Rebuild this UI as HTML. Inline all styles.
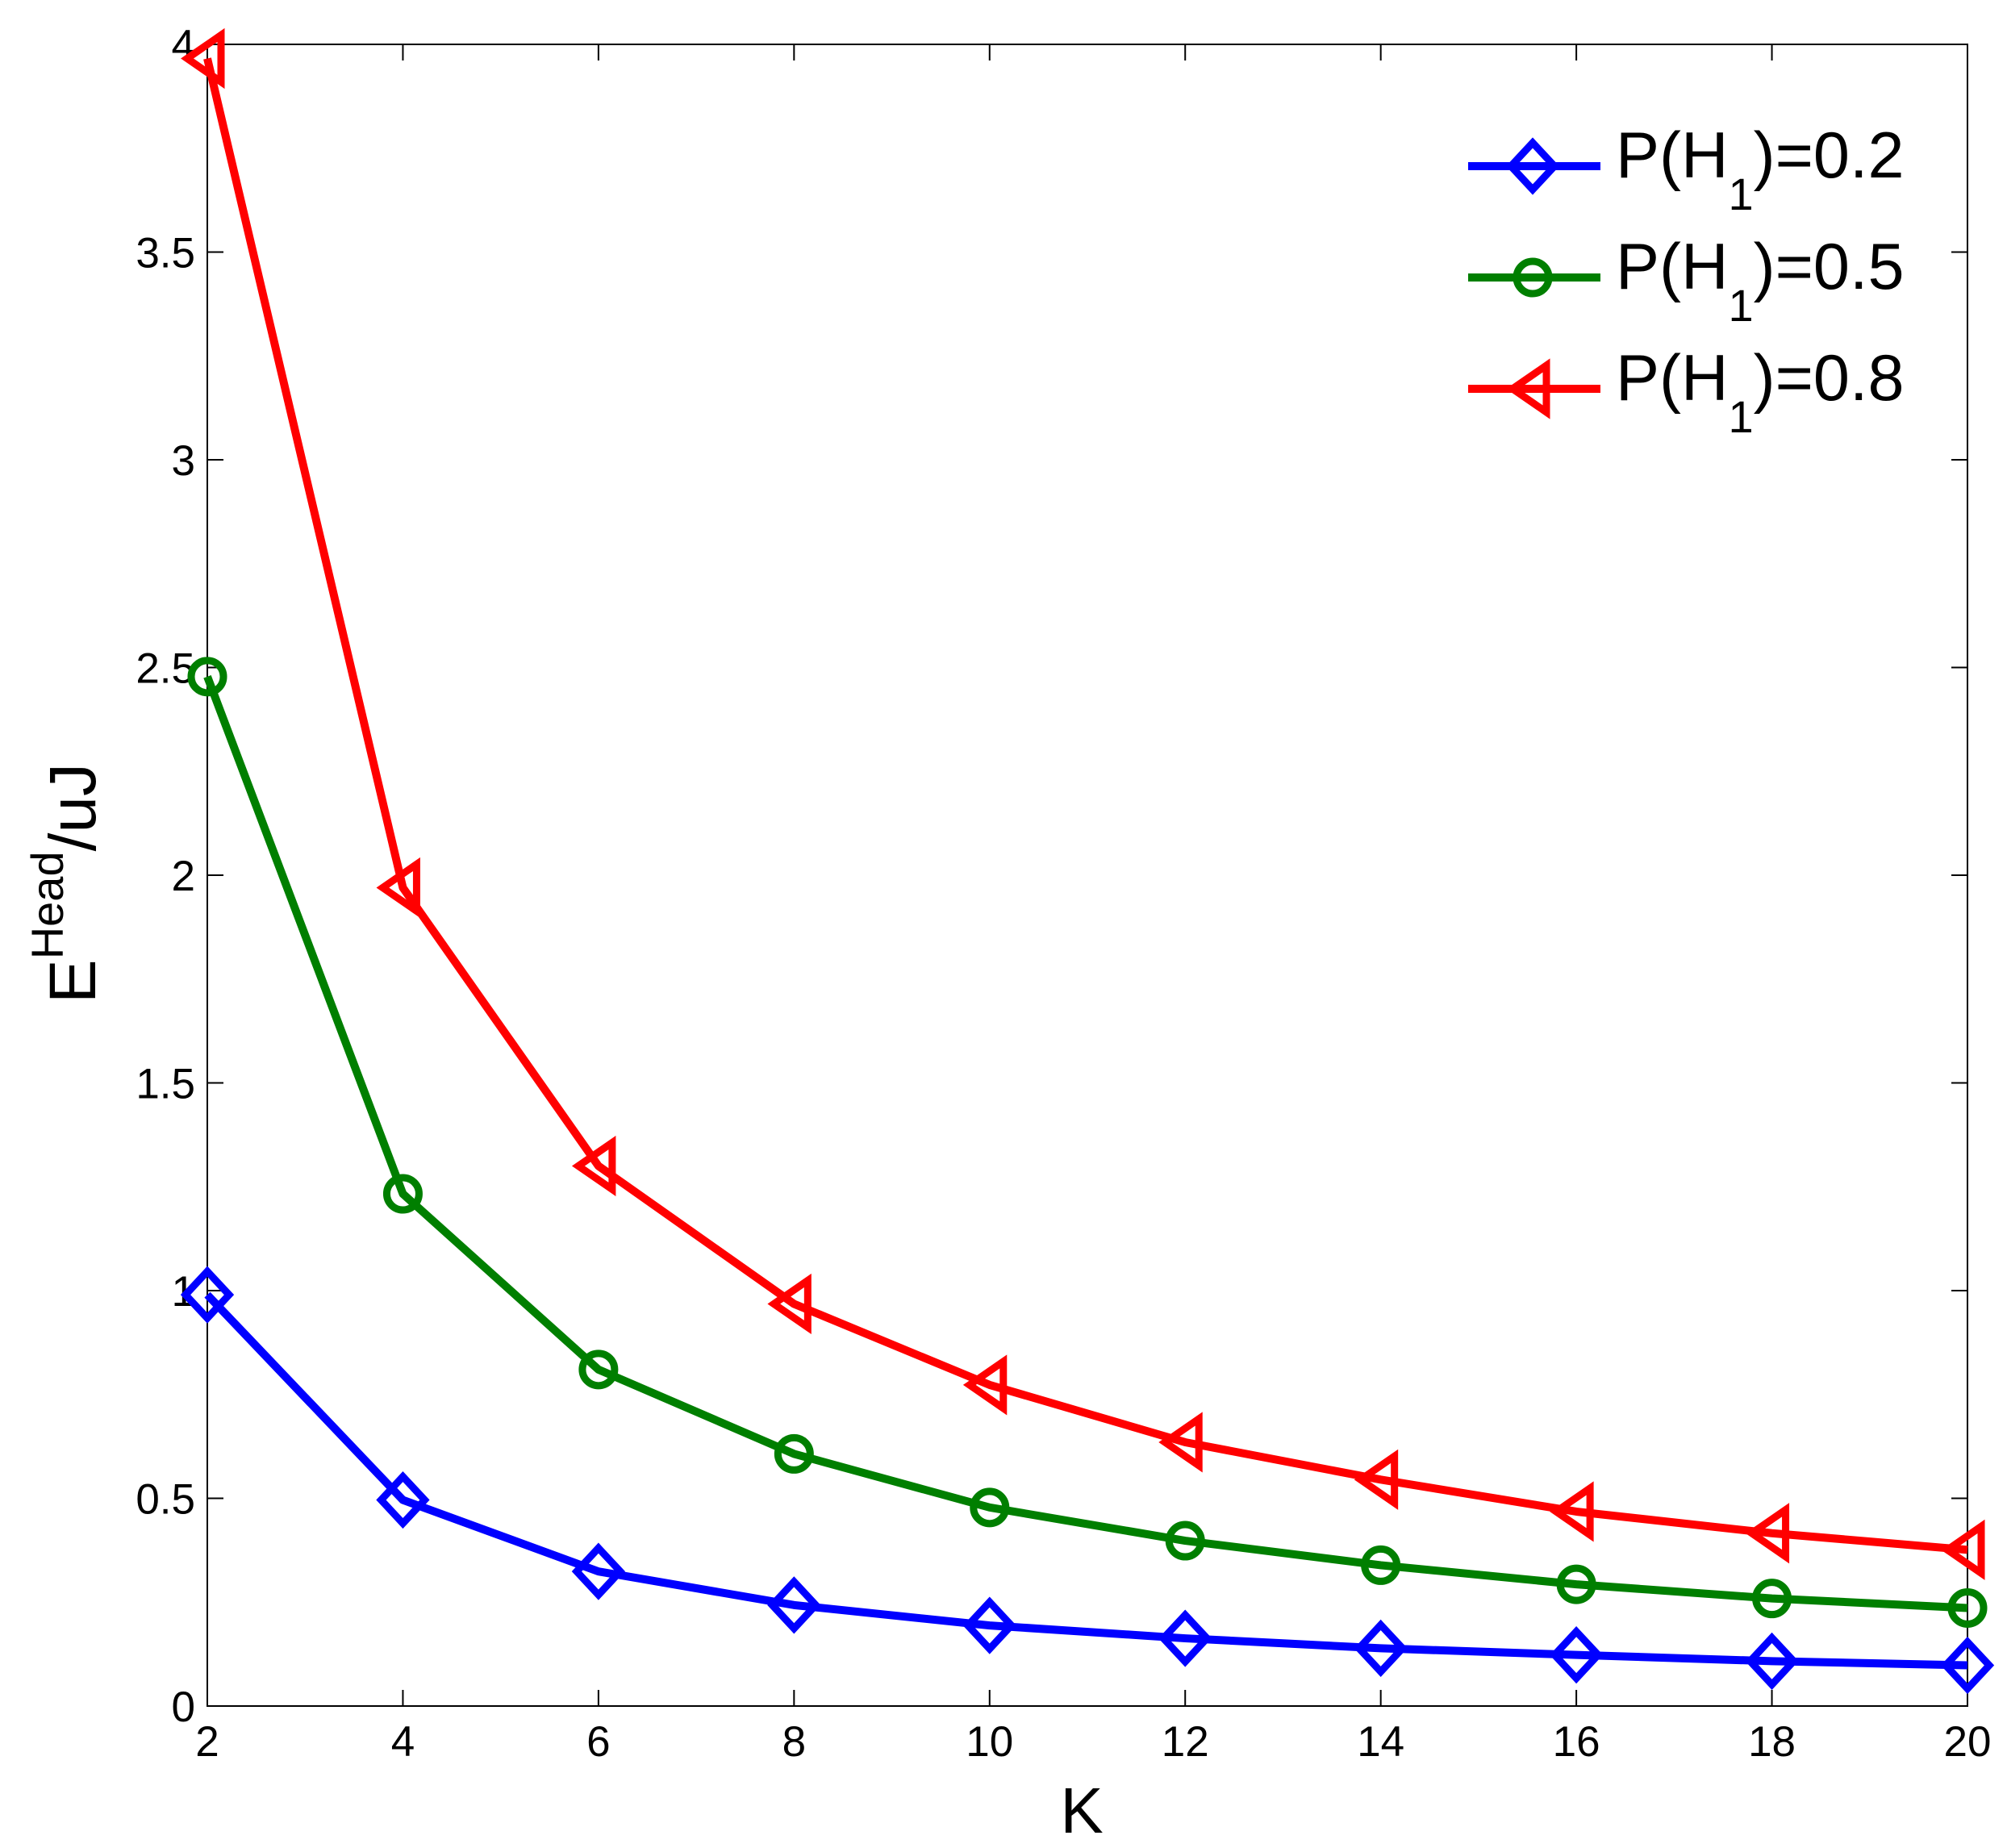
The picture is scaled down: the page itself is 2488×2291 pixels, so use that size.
<!DOCTYPE html>
<html><head><meta charset="utf-8"><style>
html,body{margin:0;padding:0;background:#fff;}
svg{display:block;font-family:"Liberation Sans",Arial,sans-serif;}
</style></head><body>
<svg id="chart" width="2488" height="2291" viewBox="0 0 2488 2291">
<rect x="0" y="0" width="2488" height="2291" fill="#fff"/>
<g id="axes"></g>
<g id="series"></g>
<g id="legend"></g>
<text x="1341" y="2272" font-size="80" text-anchor="middle">K</text>
<text transform="translate(118,1095) rotate(-90)" font-size="82" text-anchor="middle">E<tspan font-size="56" dy="-40">Head</tspan><tspan dy="40">/uJ</tspan></text>
</svg>
<script>
const kValues = [2,4,6,8,10,12,14,16,18,20];
const seriesP02 = [0.99,0.496,0.324,0.243,0.194,0.163,0.139,0.123,0.108,0.098];
const seriesP05 = [2.478,1.233,0.81,0.607,0.478,0.398,0.339,0.293,0.259,0.236];
const seriesP08 = [3.966,1.97,1.30,0.968,0.773,0.635,0.545,0.468,0.416,0.376];
const xTicks = [2,4,6,8,10,12,14,16,18,20];
const yTicks = [0,0.5,1,1.5,2,2.5,3,3.5,4];
const yTickLabels = ["0","0.5","1","1.5","2","2.5","3","3.5","4"];
const seriesNames = ["P(H1)=0.2","P(H1)=0.5","P(H1)=0.8"];

const L=257,R=2439,T=55,B=2115;
const xS=v=>L+(v-2)/(20-2)*(R-L);
const yS=v=>B-(v/4)*(B-T);
const NS='http://www.w3.org/2000/svg';
function mk(tag,attrs,parent){const e=document.createElementNS(NS,tag);for(const k in attrs)e.setAttribute(k,attrs[k]);parent.appendChild(e);return e;}
const axes=document.getElementById('axes');
const sg=document.getElementById('series');
const lg=document.getElementById('legend');

let frame=mk('rect',{x:L,y:T,width:R-L,height:B-T,fill:'none',stroke:'#000','stroke-width':2},axes);


xTicks.forEach(v=>{
  const x=xS(v);
  let t=mk('path',{d:`M${x},${B}v-20M${x},${T}v20`,stroke:'#000','stroke-width':2},axes);
  
  
  let tx=mk('text',{x:x,y:2177,'font-size':53,'text-anchor':'middle'},axes);
  tx.textContent=String(v);
  
  
});
yTicks.forEach((v,i)=>{
  const y=yS(v);
  let t=mk('path',{d:`M${L},${y}h20M${R},${y}h-20`,stroke:'#000','stroke-width':2},axes);
  
  
  let tx=mk('text',{x:242,y:y+19,'font-size':53,'text-anchor':'end'},axes);
  tx.textContent=yTickLabels[i];
  
  
});

function marker(type,x,y,color,parent){
  let m;
  if(type==='diamond') m=mk('path',{d:`M${x},${y-29}L${x+27},${y}L${x},${y+29}L${x-27},${y}Z`,fill:'none',stroke:color,'stroke-width':9},parent);
  else if(type==='circle') m=mk('circle',{cx:x,cy:y,r:20,fill:'none',stroke:color,'stroke-width':9},parent);
  else m=mk('path',{d:`M${x-25},${y}L${x+17},${y-29}L${x+17},${y+29}Z`,fill:'none',stroke:color,'stroke-width':9},parent);
  return m;
}
const defs=[[seriesP02,'#0000ff','diamond','p02'],[seriesP05,'#007f00','circle','p05'],[seriesP08,'#ff0000','triangle','p08']];
defs.forEach(([vals,col,mt,id])=>{
  const pts=kValues.map((k,i)=>xS(k)+','+yS(vals[i])).join(' ');
  let pl=mk('polyline',{points:pts,fill:'none',stroke:col,'stroke-width':10,'stroke-linejoin':'round'},sg);
  
  
  kValues.forEach((k,i)=>{
    let m=marker(mt,xS(k),yS(vals[i]),col,sg);
    
    
  });
});
const legY=[206,344,482];
defs.forEach(([vals,col,mt,id],i)=>{
  const y=legY[i];
  let ln=mk('line',{x1:1820,x2:1984,y1:y,y2:y,stroke:col,'stroke-width':10},lg);
  
  
  let m=marker(mt,1900,y,col,lg);
  
  
  const val=seriesNames[i].split('=')[1];
  let tx=mk('text',{x:2003,y:y+14,'font-size':81},lg);
  tx.innerHTML=`P(H<tspan font-size="56" dy="40">1</tspan><tspan dy="-40">)=${val}</tspan>`;
  
  
});
</script>
</body></html>
